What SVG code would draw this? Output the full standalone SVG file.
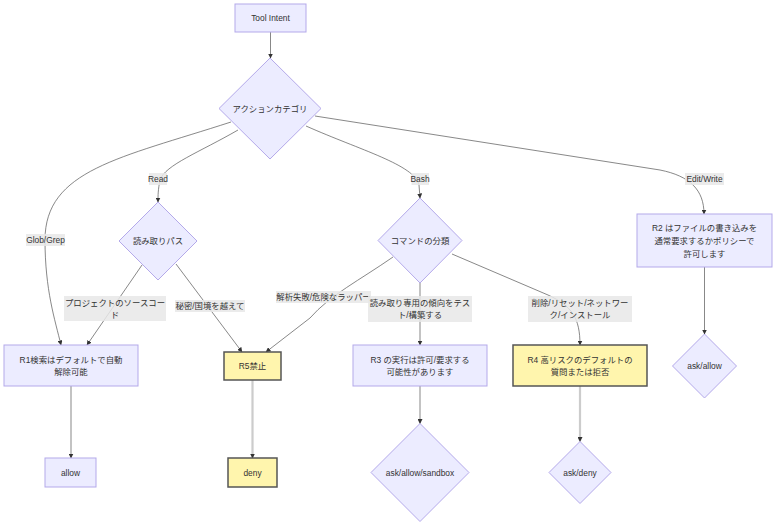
<svg xmlns="http://www.w3.org/2000/svg" width="784" height="532" viewBox="0 0 784 532">
<style>
text{font-family:"Liberation Sans","Noto Sans CJK JP",sans-serif;font-size:8.4px;fill:#333;text-anchor:middle;dominant-baseline:central}
.n{fill:#ECECFF;stroke:#b4a9ea;stroke-width:1}
.y{fill:#FFF5AD;stroke:#555;stroke-width:1.5}
.e{fill:none;stroke:#555;stroke-width:0.7;marker-end:url(#ah)}
.t{fill:none;stroke:#cccccc;stroke-width:2.2;marker-end:url(#ah)}
.lb{fill:#e8e8e8;opacity:0.85}
</style>
<defs>
<marker id="ah" viewBox="0 0 10 10" refX="9" refY="5" markerWidth="5" markerHeight="5" markerUnits="userSpaceOnUse" orient="auto">
<path d="M0,0 L10,5 L0,10 z" fill="#333"/>
</marker>
</defs>
<rect width="784" height="532" fill="#ffffff"/>
<g id="connectors">
<path class="e" d="M270.5,32 L270.5,58"/>
<path class="e" d="M231,122 C120,158 45,170 45,240 C45,290 55,320 61,345"/>
<path class="e" d="M238,130 C200,152 165,165 160,180 C158,190 158,195 158,202"/>
<path class="e" d="M306,126 C360,150 415,165 419,185 L420,198"/>
<path class="e" d="M315,116 L660,170 C690,176 704,190 704,214"/>
<path class="e" d="M142,265 L87,345"/>
<path class="e" d="M176,264 L242,352"/>
<path class="e" d="M393,257 C360,280 330,295 310,318 L266,352"/>
<path class="e" d="M420,283 L420,345"/>
<path class="e" d="M452,254 L548,295 C572,306 580,318 580,345"/>
<path class="e" d="M71,386 L71,458"/>
<path class="t" d="M252.5,380 L252.5,458"/>
<path class="e" d="M420,386 L420,423.5"/>
<path class="t" d="M580,386 L580,441.5"/>
<path class="e" d="M704.5,267 L704.5,334"/>
</g>
<g id="edge-labels">
<rect class="lb" x="149" y="173" width="18" height="12"/><text x="158" y="179">Read</text>
<rect class="lb" x="411.5" y="173" width="17.5" height="12"/><text x="420" y="179">Bash</text>
<rect class="lb" x="685" y="173" width="39" height="12"/><text x="704.5" y="179">Edit/Write</text>
<rect class="lb" x="26" y="234" width="39" height="12"/><text x="45.5" y="240">Glob/Grep</text>
<rect class="lb" x="64" y="296" width="102" height="25"/><text x="115" y="302.5">プロジェクトのソースコー</text><text x="115" y="314.5">ド</text>
<rect class="lb" x="175" y="300" width="70" height="12"/><text x="210" y="306">秘密/国境を越えて</text>
<rect class="lb" x="276" y="291" width="95" height="12"/><text x="323.5" y="297">解析失敗/危険なラッパー</text>
<rect class="lb" x="368" y="296" width="104" height="26"/><text x="420" y="302.5">読み取り専用の傾向をテス</text><text x="420" y="315">ト/構築する</text>
<rect class="lb" x="528" y="296" width="104" height="26"/><text x="580" y="302.5">削除/リセット/ネットワー</text><text x="580" y="315">ク/インストール</text>
</g>
<g id="n_tool"><rect class="n" x="235" y="4" width="71" height="28"/><text x="270.5" y="18">Tool Intent</text></g>
<g id="n_cat"><polygon class="n" points="270,58 321,108.5 270,159 219,108.5"/><text x="270" y="108.5">アクションカテゴリ</text></g>
<g id="n_read"><polygon class="n" points="158,202 197,241 158,280 119,241"/><text x="158" y="241">読み取りパス</text></g>
<g id="n_cmd"><polygon class="n" points="420,198 462,240.5 420,283 378,240.5"/><text x="420" y="240.5">コマンドの分類</text></g>
<g id="n_r2"><rect class="n" x="637" y="214" width="135" height="53"/><text x="704.5" y="228">R2 はファイルの書き込みを</text><text x="704.5" y="241">通常要求するかポリシーで</text><text x="704.5" y="254">許可します</text></g>
<g id="n_askallow"><polygon class="n" points="704.5,334 736.5,366 704.5,398 672.5,366"/><text x="704.5" y="366">ask/allow</text></g>
<g id="n_r1"><rect class="n" x="4" y="345" width="134" height="41"/><text x="71" y="359.5">R1検索はデフォルトで自動</text><text x="71" y="372">解除可能</text></g>
<g id="n_allow"><rect class="n" x="45" y="458" width="51" height="29"/><text x="70.5" y="472.5">allow</text></g>
<g id="n_r5"><rect class="y" x="224" y="352" width="57" height="28"/><text x="252.5" y="366">R5禁止</text></g>
<g id="n_deny"><rect class="y" x="228" y="458" width="49" height="29"/><text x="252.5" y="472.5">deny</text></g>
<g id="n_r3"><rect class="n" x="353" y="345" width="134" height="41"/><text x="420" y="359.5">R3 の実行は許可/要求する</text><text x="420" y="372">可能性があります</text></g>
<g id="n_r4"><rect class="y" x="513" y="345" width="134" height="41"/><text x="580" y="359.5">R4 高リスクのデフォルトの</text><text x="580" y="372">質問または拒否</text></g>
<g id="n_sandbox"><polygon class="n" points="420,423.5 469,472.5 420,521.5 371,472.5"/><text x="420" y="472.5">ask/allow/sandbox</text></g>
<g id="n_askdeny"><polygon class="n" points="580,441.5 611,472.5 580,503.5 549,472.5"/><text x="580" y="472.5">ask/deny</text></g>
</svg>
